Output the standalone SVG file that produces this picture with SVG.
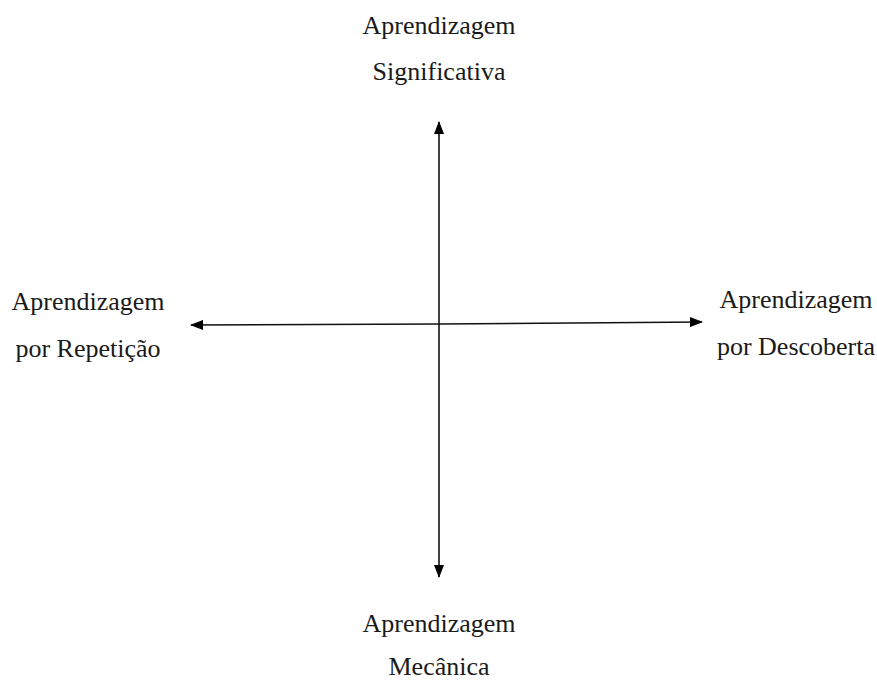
<svg xmlns="http://www.w3.org/2000/svg" width="877" height="682" viewBox="0 0 877 682">
  <style>
    .lbl { font-family: "Liberation Serif", "Times New Roman", serif; font-size: 26px; fill: #1a1a1a; text-anchor: middle; }
    .axis { stroke: #111; stroke-width: 1.6; fill: none; }
  </style>
  <defs>
    <marker id="tip" viewBox="0 0 13 10" refX="12" refY="5" markerWidth="13" markerHeight="10" markerUnits="userSpaceOnUse" orient="auto">
      <path d="M0,0 L13,5 L0,10 Z" fill="#000"/>
    </marker>
  </defs>
  <rect width="877" height="682" fill="#fff"/>

  <!-- the two axes, each drawn as two arrows from the centre -->
  <g id="connectors">
    <line class="axis" x1="439" y1="324" x2="439" y2="122" marker-end="url(#tip)"/>
    <line class="axis" x1="439" y1="324" x2="439" y2="577" marker-end="url(#tip)"/>
    <line class="axis" x1="439" y1="324" x2="191" y2="325" marker-end="url(#tip)"/>
    <line class="axis" x1="439" y1="324" x2="702" y2="322" marker-end="url(#tip)"/>
  </g>

  <g id="top">
    <text class="lbl" x="439" y="34">Aprendizagem</text>
    <text class="lbl" x="439" y="80">Significativa</text>
  </g>
  <g id="left">
    <text class="lbl" x="88" y="310">Aprendizagem</text>
    <text class="lbl" x="88" y="357">por Repetição</text>
  </g>
  <g id="right">
    <text class="lbl" x="796" y="308">Aprendizagem</text>
    <text class="lbl" x="796" y="355">por Descoberta</text>
  </g>
  <g id="bottom">
    <text class="lbl" x="439" y="632">Aprendizagem</text>
    <text class="lbl" x="439" y="675">Mecânica</text>
  </g>
</svg>
